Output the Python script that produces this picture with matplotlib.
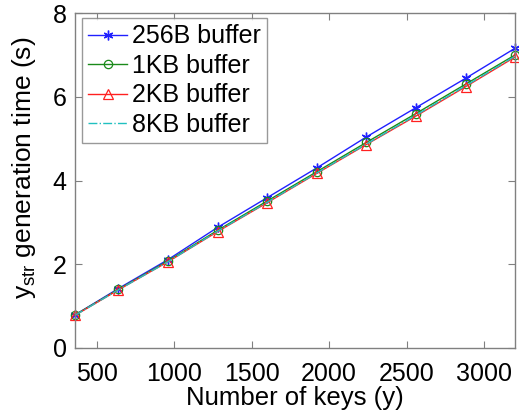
import numpy as np
import matplotlib
matplotlib.use("Agg")
import matplotlib.pyplot as plt

plt.rcParams['font.family'] = ['Liberation Sans', 'DejaVu Sans']
plt.rcParams['mathtext.fontset'] = 'custom'
plt.rcParams['mathtext.rm'] = 'Liberation Sans'

# number of keys (y)
keys = [360, 640, 960, 1280, 1600, 1920, 2240, 2560, 2880, 3200]

# generation time (s) per buffer size
t_256b = [0.79, 1.42, 2.11, 2.88, 3.59, 4.30, 5.04, 5.74, 6.44, 7.16]
t_1kb = [0.79, 1.40, 2.08, 2.81, 3.51, 4.21, 4.91, 5.60, 6.30, 7.00]
t_2kb = [0.78, 1.39, 2.06, 2.78, 3.47, 4.17, 4.86, 5.54, 6.24, 6.95]
t_8kb = [0.78, 1.39, 2.06, 2.79, 3.48, 4.18, 4.87, 5.56, 6.26, 6.97]

labels = ['256B buffer', '1KB buffer', '2KB buffer', '8KB buffer']
xticks = [500, 1000, 1500, 2000, 2500, 3000]
yticks = [0, 2, 4, 6, 8]

fig = plt.figure(figsize=(5.19, 4.13), dpi=100)
ax = fig.add_axes([0.1445, 0.1574, 0.848, 0.811])

ax.plot(keys, t_256b, color='#2020ff', lw=1.0, marker=(6, 2, 0), ms=7,
        mew=1.0, label=labels[0], clip_on=False)
ax.plot(keys, t_1kb, color='#1a8a1a', lw=1.0, marker='o', ms=6,
        mfc='none', mew=0.9, label=labels[1], clip_on=False)
ax.plot(keys, t_2kb, color='#ff2020', lw=1.0, marker='^', ms=7,
        mfc='none', mew=0.9, label=labels[2], clip_on=False)
ax.plot(keys, t_8kb, color='#20c0c0', lw=1.0, ls='-.',
        label=labels[3], clip_on=False)

ax.set_xlim(keys[0], keys[-1])
ax.set_ylim(0, 8)
ax.set_xticks(xticks)
ax.set_yticks(yticks)

for s in ax.spines.values():
    s.set_color('#808080')
    s.set_linewidth(1.0)
ax.tick_params(direction='in', top=True, right=True, length=5,
               color='#808080', labelsize=18)
ax.tick_params(axis='x', pad=10)
ax.tick_params(axis='y', pad=6)

ax.set_xlabel('Number of keys (y)', fontsize=18.5, labelpad=0)
ax.set_ylabel(r'$\mathregular{y_{str}}$ generation time (s)', fontsize=19)
ax.yaxis.set_label_coords(-0.083, 0.537)

leg = ax.legend(loc='upper left', fontsize=18, frameon=True, fancybox=False,
                edgecolor='#808080', handlelength=1.55, handletextpad=0.2,
                borderpad=0.25, labelspacing=0.22, borderaxespad=0.0,
                bbox_to_anchor=(0.016, 0.985))
leg.get_frame().set_linewidth(1.0)

fig.savefig('out.png', dpi=100)
